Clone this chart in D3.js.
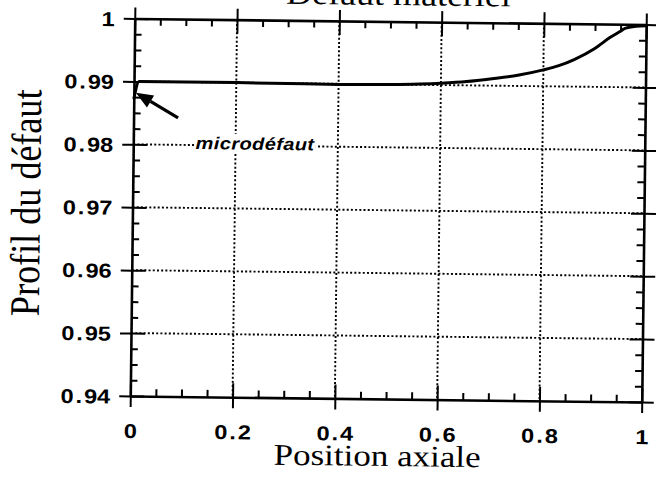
<!DOCTYPE html>
<html><head><meta charset="utf-8">
<script src="https://cdn.jsdelivr.net/npm/d3@7"></script>
<style>body{margin:0;background:#fff}svg{display:block}</style>
</head><body>
<svg id="c" width="656" height="477"></svg>
<script>
// ---- data ----
const positions = [0, 0.01, 0.1, 0.2, 0.3, 0.4, 0.5, 0.6, 0.65, 0.7, 0.75, 0.8, 0.83, 0.86, 0.9, 0.93, 0.95, 0.96, 0.98, 1.0];
const profile   = [0.9872, 0.99, 0.99, 0.99, 0.98995, 0.9899, 0.9900, 0.9903, 0.9906, 0.9911, 0.9917, 0.9926, 0.9933, 0.9943, 0.9961, 0.9979, 0.9989, 0.9994, 0.9997, 0.9998];
const xTicks = [0, 0.2, 0.4, 0.6, 0.8, 1];
const xTickLabels = ["0", "0.2", "0.4", "0.6", "0.8", "1"];
const yTicks = [0.94, 0.95, 0.96, 0.97, 0.98, 0.99, 1];
const yTickLabels = ["0.94", "0.95", "0.96", "0.97", "0.98", "0.99", "1"];
const xGrid = [0.2, 0.4, 0.6, 0.8];
const yGrid = [0.95, 0.96, 0.97, 0.98, 0.99];
const chartTitle = "Défaut matériel";
const xTitle = "Position axiale";
const yTitle = "Profil du défaut";
const noteText = "microdéfaut";
const notePos = [0.122, 0.98];
const arrowTip = [0.004, 0.9882];
const arrowTail = [0.087, 0.9843];

// ---- layout ----
const L = 132.5, R = 644, T = 21.5, B = 399;
const SQ = 0.86; // vertical squash of the scanned original
const svg = d3.select("#c");
const g = svg.append("g").attr("transform", "rotate(0.68,388,210)");
const x = d3.scaleLinear().domain([0, 1]).range([L, R]);
const y = d3.scaleLinear().domain([0.94, 1]).range([B, T]);

const xMinor = d3.range(0, 1.0001, 0.05).filter(v => !xTicks.some(t => Math.abs(t - v) < 1e-6));
const yMinor = d3.range(0.94, 1.00001, 0.0025).filter(v => !yTicks.some(t => Math.abs(t - v) < 1e-6));

// grid
g.append("g").selectAll("line").data(xGrid).join("line")
  .attr("x1", d => x(d)).attr("x2", d => x(d)).attr("y1", T).attr("y2", B)
  .attr("stroke", "#000").attr("stroke-width", 1.9).attr("stroke-dasharray", "2,2.2");
g.append("g").selectAll("line").data(yGrid).join("line")
  .attr("y1", d => y(d)).attr("y2", d => y(d)).attr("x1", L).attr("x2", R)
  .attr("stroke", "#000").attr("stroke-width", 1.9).attr("stroke-dasharray", "2,2.2");

// annotation text with white background
const noteG = g.append("g");
const noteT = noteG.append("text")
  .attr("transform", `translate(${x(notePos[0])},${y(notePos[1]) + 4}) scale(1,${SQ})`)
  .attr("font-family", "Liberation Sans, Arial, sans-serif")
  .attr("font-style", "italic").attr("font-weight", "bold")
  .attr("font-size", 20).attr("letter-spacing", 0.4)
  .text(noteText);
const bb = noteT.node().getBBox();
noteG.insert("rect", "text")
  .attr("transform", `translate(${x(notePos[0])},${y(notePos[1]) + 4}) scale(1,${SQ})`)
  .attr("x", bb.x - 1).attr("y", bb.y).attr("width", bb.width + 2).attr("height", bb.height).attr("fill", "#fff");

// frame + ticks
const fontTick = "Liberation Sans, Arial, sans-serif";
function styleAxis(sel) {
  sel.selectAll("path.domain").attr("stroke", "#000").attr("stroke-width", 2.6);
  sel.selectAll(".tick line").attr("stroke", "#000").attr("stroke-width", 2);
}
function labelAxis(sel, px, py, anchor) {
  sel.selectAll(".tick text").each(function () {
    const t = d3.select(this); const s = t.text();
    t.text(null).attr("x", null).attr("y", null).attr("dy", null)
      .attr("transform", `translate(${px},${py}) scale(1,${SQ})`)
      .attr("text-anchor", anchor)
      .attr("fill", "#000").attr("font-family", fontTick).attr("font-weight", "bold").attr("font-size", 23.5);
    const i = s.indexOf(".");
    if (i < 0) { t.text(s); return; }
    t.append("tspan").text(s.slice(0, i));
    t.append("tspan").attr("dx", 2).text(".");
    t.append("tspan").attr("dx", 2).text(s.slice(i + 1));
  });
}
// left
const gl = g.append("g").attr("transform", `translate(${L},0)`)
  .call(d3.axisLeft(y).tickValues(yTicks).tickSize(11).tickSizeOuter(0).tickFormat((d, i) => yTickLabels[i]));
styleAxis(gl); labelAxis(gl, -20, 7.3, "end");
g.append("g").attr("transform", `translate(${L},0)`).call(d3.axisLeft(y).tickValues(yTicks).tickSize(-14).tickFormat("")).call(s => s.select(".domain").remove()).call(styleAxis);
g.append("g").attr("transform", `translate(${L},0)`).call(d3.axisLeft(y).tickValues(yMinor).tickSize(-7).tickFormat("")).call(s => s.select(".domain").remove()).call(styleAxis);
// right
g.append("g").attr("transform", `translate(${R},0)`).call(d3.axisRight(y).tickValues(yTicks).tickSize(12).tickSizeOuter(0).tickFormat("")).call(styleAxis);
g.append("g").attr("transform", `translate(${R},0)`).call(d3.axisRight(y).tickValues(yTicks).tickSize(-13).tickFormat("")).call(s => s.select(".domain").remove()).call(styleAxis);
g.append("g").attr("transform", `translate(${R},0)`).call(d3.axisRight(y).tickValues(yMinor).tickSize(-7).tickFormat("")).call(s => s.select(".domain").remove()).call(styleAxis);
// bottom
const gb = g.append("g").attr("transform", `translate(0,${B})`)
  .call(d3.axisBottom(x).tickValues(xTicks).tickSize(11).tickSizeOuter(0).tickFormat((d, i) => xTickLabels[i]));
styleAxis(gb); labelAxis(gb, 0, 42, "middle");
g.append("g").attr("transform", `translate(0,${B})`).call(d3.axisBottom(x).tickValues(xTicks).tickSize(-14).tickFormat("")).call(s => s.select(".domain").remove()).call(styleAxis);
g.append("g").attr("transform", `translate(0,${B})`).call(d3.axisBottom(x).tickValues(xMinor).tickSize(-7).tickFormat("")).call(s => s.select(".domain").remove()).call(styleAxis);
// top
g.append("g").attr("transform", `translate(0,${T})`).call(d3.axisTop(x).tickValues(xTicks).tickSize(11).tickSizeOuter(0).tickFormat("")).call(styleAxis);
g.append("g").attr("transform", `translate(0,${T})`).call(d3.axisTop(x).tickValues(xTicks).tickSize(-14).tickFormat("")).call(s => s.select(".domain").remove()).call(styleAxis);
g.append("g").attr("transform", `translate(0,${T})`).call(d3.axisTop(x).tickValues(xMinor).tickSize(-7).tickFormat("")).call(s => s.select(".domain").remove()).call(styleAxis);

// curve
const pts = positions.map((p, i) => [p, profile[i]]);
g.append("path").datum(pts)
  .attr("fill", "none").attr("stroke", "#000").attr("stroke-width", 3).attr("stroke-linejoin", "round")
  .attr("d", d3.line().x(d => x(d[0])).y(d => y(d[1])).curve(d3.curveMonotoneX));

// arrow
const tip = [x(arrowTip[0]), y(arrowTip[1])], tail = [x(arrowTail[0]), y(arrowTail[1])];
const ang = Math.atan2(tip[1] - tail[1], tip[0] - tail[0]);
const hl = 17, hw = 7;
const base = [tip[0] - hl * Math.cos(ang), tip[1] - hl * Math.sin(ang)];
g.append("line").attr("x1", tail[0]).attr("y1", tail[1]).attr("x2", base[0]).attr("y2", base[1])
  .attr("stroke", "#000").attr("stroke-width", 3.2);
g.append("path").attr("fill", "#000")
  .attr("d", `M${tip[0]},${tip[1]}L${base[0] - hw * Math.sin(ang)},${base[1] + hw * Math.cos(ang)}L${base[0] + hw * Math.sin(ang)},${base[1] - hw * Math.cos(ang)}Z`);

// titles
const serif = "Liberation Serif, Times New Roman, serif";
g.append("text").attr("transform", `translate(396,5) scale(1,${SQ})`).attr("text-anchor", "middle")
  .attr("font-family", serif).attr("font-size", 36).text(chartTitle);
g.append("text").attr("transform", `translate(380,466) scale(1,${SQ})`).attr("text-anchor", "middle")
  .attr("font-family", serif).attr("font-size", 35).text(xTitle);
g.append("text").attr("transform", `translate(40,207) rotate(-90) scale(${SQ},1)`).attr("text-anchor", "middle")
  .attr("font-family", serif).attr("font-size", 42).text(yTitle);
</script>
</body></html>
